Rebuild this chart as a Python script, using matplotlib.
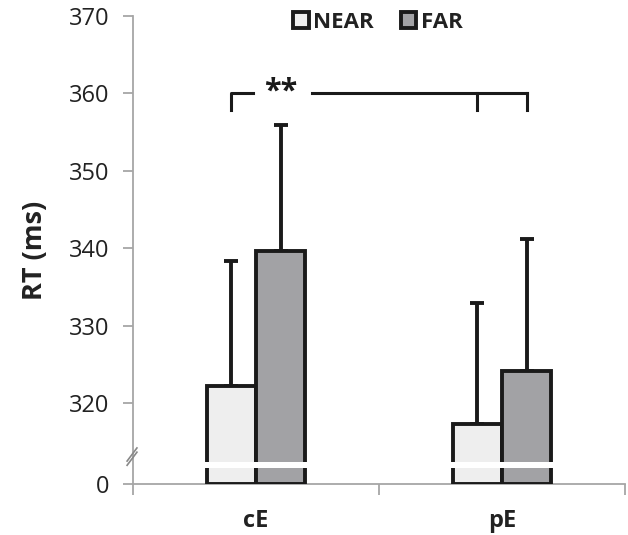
import matplotlib
matplotlib.use("Agg")
import matplotlib.pyplot as plt
from matplotlib.patches import Rectangle
import numpy as np

categories = ["cE", "pE"]
series = ["NEAR", "FAR"]
near_means = [322.2, 317.3]
near_err = [16.1, 15.6]
far_means = [339.7, 324.1]
far_err = [16.2, 17.1]
ytick_vals = [320, 330, 340, 350, 360, 370]
ytick_labels = ["320", "330", "340", "350", "360", "370"]
near_color = "#eeeeee"
far_color = "#a2a2a5"

plt.rcParams['font.family'] = ['Open Sans', 'DejaVu Sans']

fig = plt.figure(figsize=(6.28, 5.35), dpi=100)
ax = fig.add_axes([133/628, 1-484/535, (625-133)/628, (484-16)/535])

base = 309.55
ax.set_ylim(base, 370)
ax.set_xlim(-0.5, 1.5)

x = np.arange(len(categories))
w = 0.2
ekw = dict(ecolor="#1a1a1a", elinewidth=2.8, capsize=5, capthick=2.8)
for means, errs, off, col in [(near_means, near_err, -w/2, near_color), (far_means, far_err, w/2, far_color)]:
    heights = np.array(means) - base
    ax.bar(x + off, heights, w, bottom=base, color=col, edgecolor="#1a1a1a", linewidth=2.8, zorder=3)
    ax.errorbar(x + off, means, yerr=[np.zeros(len(errs)), errs], fmt="none", zorder=2.5, **ekw)

# axis break band
ax.axhspan(311.6, 312.4, xmin=0.01, xmax=1, color="white", zorder=4, lw=0)

# spines
for s in ["top", "right"]:
    ax.spines[s].set_visible(False)
for s in ["left", "bottom"]:
    ax.spines[s].set_color("#a6a6a6")
    ax.spines[s].set_linewidth(1.3)

ax.set_yticks([base] + ytick_vals)
ax.set_yticklabels(["0"] + ytick_labels, fontsize=17, color="#222222")
ax.tick_params(axis="y", length=7, width=1.3, color="#a6a6a6", direction="out", pad=10)

ax.set_xticks([-0.5, 0.5, 1.5])
ax.set_xticklabels(["", "", ""])
ax.tick_params(axis="x", which="major", length=8, width=1.3, color="#a6a6a6", direction="out")
ax.set_xticks(x, minor=True)
ax.set_xticklabels(categories, minor=True, fontsize=17, fontweight="bold", color="#222222")
ax.tick_params(axis="x", which="minor", length=0, pad=18)

ax.set_ylabel("RT (ms)", fontsize=19.5, fontweight="bold", color="#222222", labelpad=15)

# break marks on y axis
for dy in [0.0, 0.009]:
    ax.plot([-0.012, 0.008], [0.04 + dy, 0.068 + dy], transform=ax.transAxes, color="#888888", lw=1.2, clip_on=False, zorder=5)

# significance bracket
yb, yt = 357.8, 360.0
kw = dict(color="#1a1a1a", lw=2.2, zorder=5)
ax.plot([-0.1, -0.1, -0.012], [yb, yt, yt], **kw)
ax.plot([0.228, 1.1], [yt, yt], **kw)
ax.plot([0.9, 0.9], [yt, yb], **kw)
ax.plot([1.1, 1.1], [yt, yb], **kw)
ax.text(0.1, yt + 0.2, "**", ha="center", va="center", fontsize=22, fontweight="bold", color="#1a1a1a")

# legend
handles = [Rectangle((0, 0), 1, 1, facecolor=near_color, edgecolor="#1a1a1a", lw=2.8),
           Rectangle((0, 0), 1, 1, facecolor=far_color, edgecolor="#1a1a1a", lw=2.8)]
leg = ax.legend(handles, series, loc="center", bbox_to_anchor=(378/628, 1-22/535), bbox_transform=fig.transFigure,
                ncol=2, frameon=False, handlelength=0.7, handleheight=0.7, handletextpad=0.2, columnspacing=1.2,
                prop={"weight": "bold", "size": 16})
for t in leg.get_texts():
    t.set_color("#222222")

fig.savefig("out.png", dpi=100)
